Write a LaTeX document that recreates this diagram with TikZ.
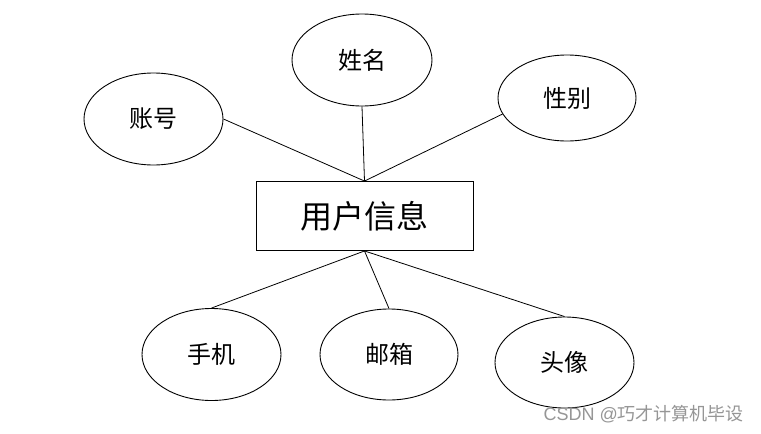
\documentclass[tikz,border=0pt]{standalone}
\usepackage{fontspec}
\setmainfont{Noto Sans CJK SC}
\newfontfamily\wmlat{Liberation Sans}
\usetikzlibrary{shapes.geometric}
\definecolor{wm}{RGB}{150,150,150}
\tikzset{
  attr/.style={draw=black, line width=0.9pt, ellipse, inner sep=0pt, minimum width=139pt, minimum height=92pt, font=\fontsize{24}{28}\selectfont},
  ent/.style={draw=black, line width=0.9pt, rectangle, inner sep=0pt, minimum width=217pt, minimum height=69pt, font=\fontsize{32}{36}\selectfont},
  link/.style={draw=black, line width=0.8pt}
}
\begin{document}
\begin{tikzpicture}[x=1pt,y=-1pt]
\useasboundingbox[fill=white] (0,0) rectangle (761,434);
\node[ent] (user) at (364.5,216) {用户信息};
\node[attr] (zh) at (153.5,119) {账号};
\node[attr, minimum width=140pt] (xm) at (362,60) {姓名};
\node[attr, minimum height=86pt, minimum width=138pt] (xb) at (567,98) {性别};
\node[attr] (sj) at (211.5,354.5) {手机};
\node[attr, minimum height=91pt, minimum width=138pt] (yx) at (389,354.5) {邮箱};
\node[attr, minimum height=91pt] (tx) at (564.5,362.5) {头像};
\draw[link] (zh.east) -- (user.north);
\draw[link] (xm.south) -- (user.north);
\draw[link] (xb.194) -- (user.north);
\draw[link] (user.south) -- (sj.north);
\draw[link] (user.south) -- (yx.north);
\draw[link] (user.south) -- (tx.north);
\node[text=wm, font=\fontsize{18}{20}\selectfont, anchor=east, inner sep=0pt] (wmk) at (744,414) {{\wmlat CSDN @}巧才计算机毕设};
\end{tikzpicture}
\end{document}
